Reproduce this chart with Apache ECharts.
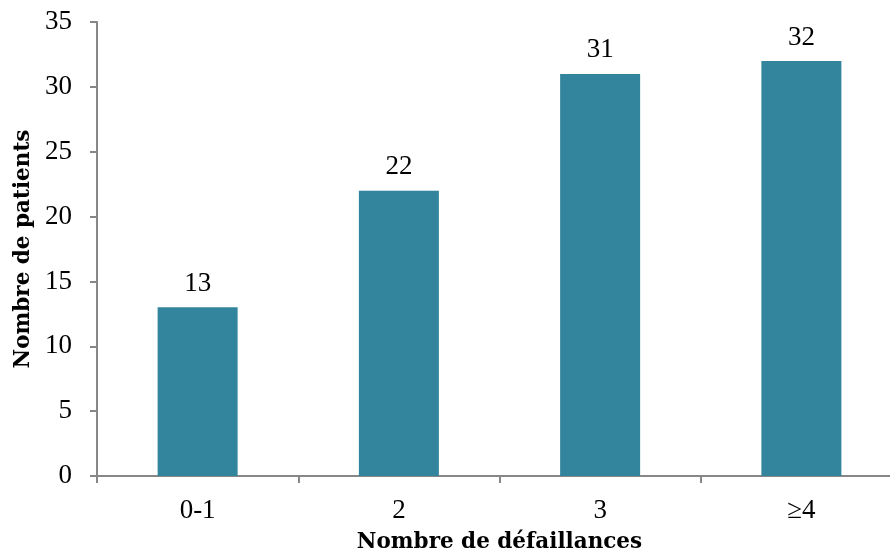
<!DOCTYPE html>
<html><head><meta charset="utf-8">
<script src="https://cdn.jsdelivr.net/npm/echarts@6/dist/echarts.min.js"></script>
<style>html,body{margin:0;padding:0;background:#fff;overflow:hidden}#c{width:890px;height:551px}</style>
</head><body><div id="c"></div>
<script>
const categories = ['0-1', '2', '3', '≥4'];
const patients = [13, 22, 31, 32];
const yTicks = { min: 0, max: 35, interval: 5 };
const xTitle = 'Nombre de défaillances';
const yTitle = 'Nombre de patients';

const numFont = 'Liberation Serif';
const titleFont = 'DejaVu Serif';
const axisColor = '#878787';

const chart = echarts.init(document.getElementById('c'), null, { renderer: 'canvas' });
chart.setOption({
  animation: false,
  grid: { left: 97, width: 805, top: 22, bottom: 75, containLabel: false, outerBoundsMode: 'none' },
  xAxis: {
    type: 'category',
    data: categories,
    boundaryGap: true,
    axisLine: { lineStyle: { color: axisColor, width: 2 } },
    axisTick: { show: true, length: 7, alignWithLabel: false, lineStyle: { color: axisColor, width: 2 } },
    axisLabel: { color: '#000', fontFamily: numFont, fontSize: 27, margin: 21 },
    name: xTitle,
    nameLocation: 'middle',
    nameGap: 55,
    nameTextStyle: { color: '#000', fontFamily: titleFont, fontWeight: 'bold', fontSize: 21.5 }
  },
  yAxis: {
    type: 'value',
    min: yTicks.min, max: yTicks.max, interval: yTicks.interval,
    splitLine: { show: false },
    axisLine: { show: true, lineStyle: { color: axisColor, width: 2 } },
    axisTick: { show: true, length: 7, lineStyle: { color: axisColor, width: 2 } },
    axisLabel: { color: '#000', fontFamily: numFont, fontSize: 27, margin: 25 },
    name: yTitle,
    nameLocation: 'middle',
    nameGap: 62,
    nameRotate: 90,
    nameTextStyle: { color: '#000', fontFamily: titleFont, fontWeight: 'bold', fontSize: 21.5 }
  },
  series: [{
    type: 'bar',
    data: patients,
    barWidth: 80,
    itemStyle: { color: '#32859C' },
    label: { show: true, position: 'top', distance: 10, color: '#000', fontFamily: numFont, fontSize: 27 }
  }]
});
</script></body></html>
